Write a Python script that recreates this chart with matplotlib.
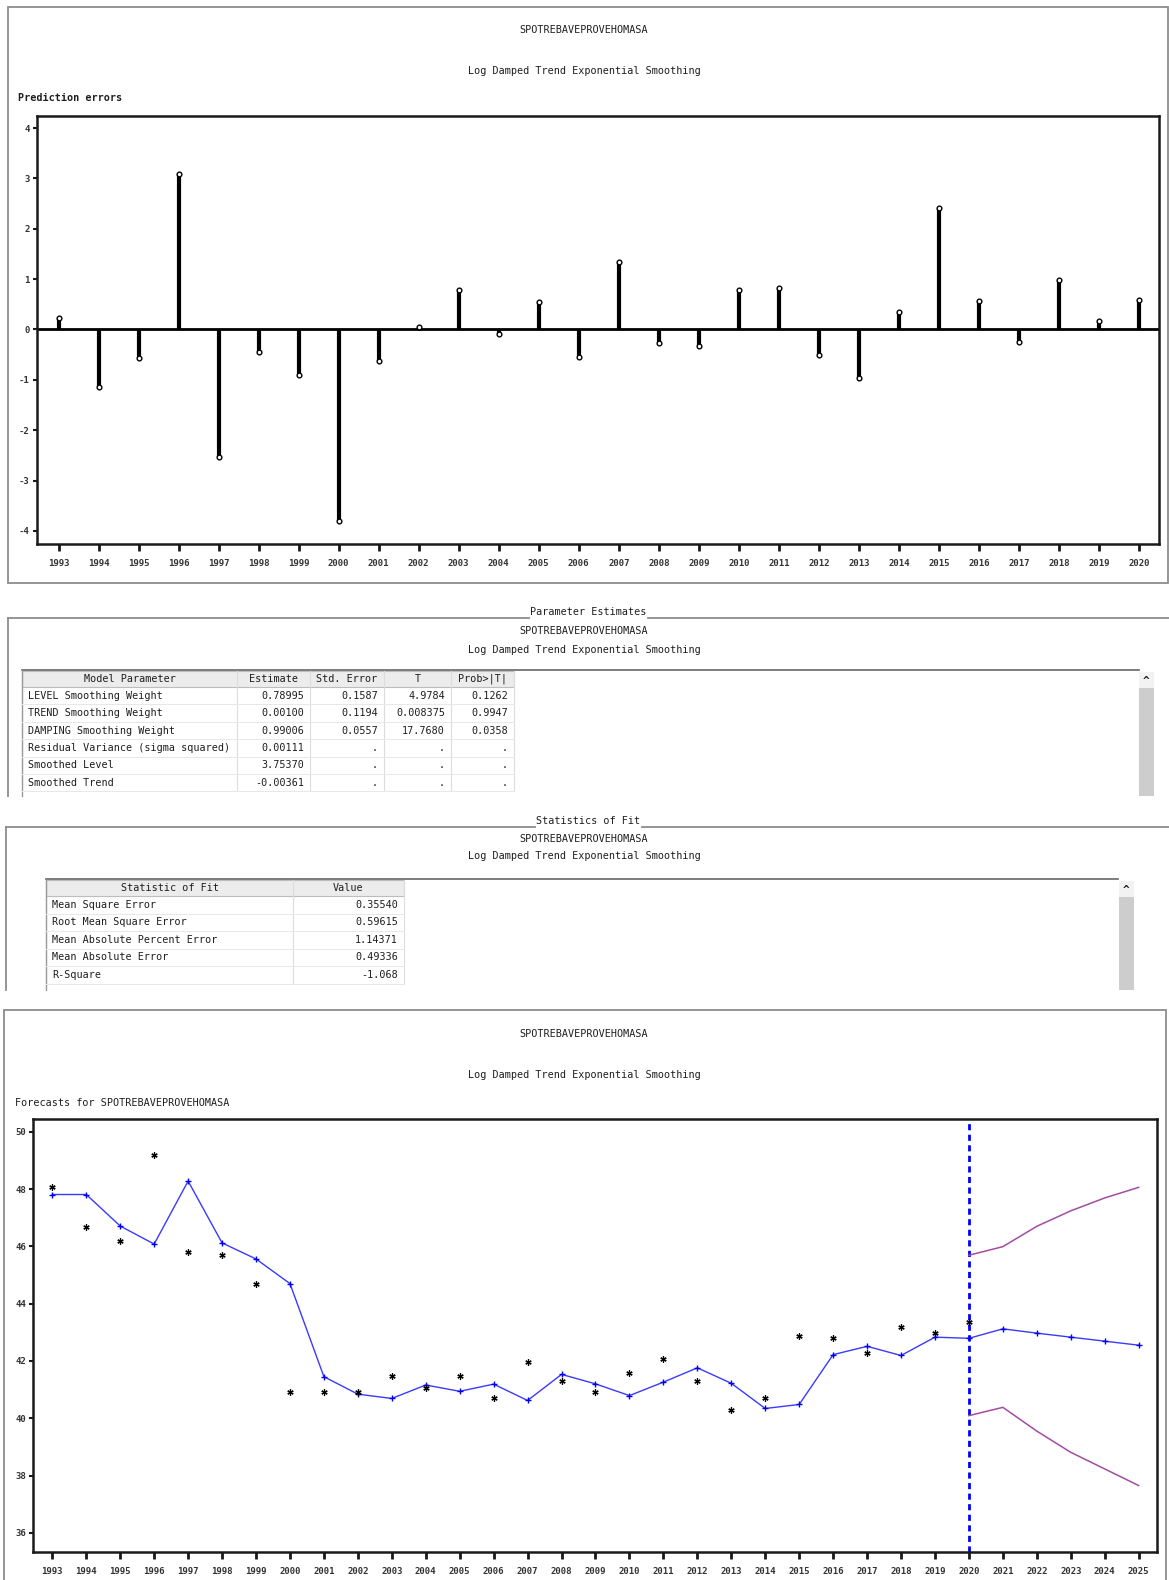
import matplotlib
matplotlib.use('Agg')
import matplotlib.pyplot as plt
from matplotlib.lines import Line2D
from matplotlib.patches import Rectangle

# ---------------- data ----------------
title = "SPOTREBAVEPROVEHOMASA"
subtitle = "Log Damped Trend Exponential Smoothing"

err_years = list(range(1993, 2021))
errors = [0.23, -1.15, -0.56, 3.08, -2.54, -0.44, -0.91, -3.80, -0.62, 0.05,
          0.78, -0.09, 0.54, -0.54, 1.35, -0.27, -0.32, 0.78, 0.82, -0.50,
          -0.96, 0.35, 2.41, 0.56, -0.25, 0.98, 0.16, 0.58]

act_years = list(range(1993, 2021))
actual = [48.08, 46.69, 46.19, 49.19, 45.79, 45.69, 44.70, 40.91, 40.91, 40.91,
          41.48, 41.07, 41.48, 40.69, 41.98, 41.29, 40.91, 41.58, 42.08, 41.29,
          40.29, 40.69, 42.87, 42.79, 42.28, 43.17, 42.98, 43.35]

pred_years = list(range(1993, 2026))
predicted = [47.81, 47.81, 46.71, 46.08, 48.28, 46.12, 45.56, 44.70, 41.45, 40.84,
             40.69, 41.16, 40.94, 41.19, 40.62, 41.53, 41.20, 40.79, 41.26, 41.76,
             41.22, 40.34, 40.48, 42.22, 42.51, 42.19, 42.83, 42.79, 43.12, 42.97,
             42.83, 42.69, 42.55]

ci_years = list(range(2020, 2026))
upper = [45.69, 45.99, 46.70, 47.24, 47.69, 48.06]
lower = [40.09, 40.38, 39.55, 38.81, 38.23, 37.65]
forecast_start = 2020

err_yticks = [-4, -3, -2, -1, 0, 1, 2, 3, 4]
fc_yticks = [36, 38, 40, 42, 44, 46, 48, 50]

param_header = ["Model Parameter", "Estimate", "Std. Error", "T", "Prob>|T|"]
param_names = ["LEVEL Smoothing Weight", "TREND Smoothing Weight",
               "DAMPING Smoothing Weight", "Residual Variance (sigma squared)",
               "Smoothed Level", "Smoothed Trend"]
param_estimate = ["0.78995", "0.00100", "0.99006", "0.00111", "3.75370", "-0.00361"]
param_stderr = ["0.1587", "0.1194", "0.0557", ".", ".", "."]
param_t = ["4.9784", "0.008375", "17.7680", ".", ".", "."]
param_prob = ["0.1262", "0.9947", "0.0358", ".", ".", "."]

stat_header = ["Statistic of Fit", "Value"]
stat_names = ["Mean Square Error", "Root Mean Square Error",
              "Mean Absolute Percent Error", "Mean Absolute Error", "R-Square"]
stat_values = ["0.35540", "0.59615", "1.14371", "0.49336", "-1.068"]

# ---------------- figure ----------------
W, H = 1169, 1580
plt.rcParams['font.family'] = ['DejaVu Sans Mono']
fig = plt.figure(figsize=(W / 100, H / 100), dpi=100)
fig.patch.set_facecolor('white')

FS = 7.3
TXT = '#1e1e1e'
FRAME = '#8c8c8c'


def line(x0, y0, x1, y1, color=FRAME, lw=1.3):
    fig.add_artist(Line2D([x0 / W, x1 / W], [1 - y0 / H, 1 - y1 / H],
                          color=color, lw=lw, transform=fig.transFigure))


def rect(x0, y0, x1, y1, fc='none', ec='none', lw=0.8):
    fig.add_artist(Rectangle((x0 / W, 1 - y1 / H), (x1 - x0) / W, (y1 - y0) / H,
                             facecolor=fc, edgecolor=ec, lw=lw,
                             transform=fig.transFigure))


def text(x, y, s, ha='left', **kw):
    fig.text(x / W, 1 - y / H, s, ha=ha, va='center', fontsize=kw.pop('fs', FS),
             color=kw.pop('color', TXT), **kw)


def style_axes(ax):
    for sp in ax.spines.values():
        sp.set_linewidth(1.8)
        sp.set_color('#1a1a1a')
    ax.tick_params(axis='x', direction='out', length=5, width=2, pad=6,
                   labelsize=6.5, colors='#1a1a1a', labelcolor='#333333')
    ax.tick_params(axis='y', direction='out', length=3, width=1.5, pad=2,
                   labelsize=6.5, colors='#1a1a1a', labelcolor='#333333')
    for lab in ax.get_xticklabels() + ax.get_yticklabels():
        lab.set_fontweight('bold')


# ---------------- top panel: prediction errors ----------------
rect(8, 7, 1168, 583, ec=FRAME, lw=1.3)
text(584, 30, title, ha='center')
text(584, 70.5, subtitle, ha='center')
text(18, 98, "Prediction errors", weight='bold')

ax1 = fig.add_axes([36.5 / W, 1 - 544 / H, (1159 - 36.5) / W, (544 - 116) / H])
ax1.vlines(err_years, 0, errors, color='black', lw=3, zorder=2)
ax1.axhline(0, color='black', lw=2, zorder=2)
ax1.plot(err_years, errors, 'o', ms=3.4, mfc='white', mec='black', mew=1.0, zorder=3)
ax1.set_xlim(1992.445, 2020.505)
ax1.set_ylim(-4.26, 4.24)
ax1.set_xticks(err_years)
ax1.set_xticklabels([str(y) for y in err_years])
ax1.set_yticks(err_yticks)
ax1.set_yticklabels([str(v) for v in err_yticks])
style_axes(ax1)

# ---------------- parameter estimates table ----------------
line(8, 618, 529, 618)
line(648, 618, 1169, 618)
text(588.5, 612, "Parameter Estimates", ha='center')
line(8, 618, 8, 796)
text(584, 631, title, ha='center')
text(584, 650, subtitle, ha='center')
line(22, 670, 1139, 670, color='#666666', lw=1.2)

p_cols = [22, 237, 310, 384, 451, 514]
p_top, p_hh, p_rh = 671, 16, 17.4
rect(p_cols[0], p_top, p_cols[-1], p_top + p_hh, fc='#ececec', ec='#bdbdbd', lw=0.8)
for i, h in enumerate(param_header):
    text((p_cols[i] + p_cols[i + 1]) / 2, p_top + p_hh / 2, h, ha='center')
for c in p_cols:
    line(c, p_top, c, p_top + p_hh + p_rh * len(param_names), color='#dcdcdc', lw=0.8)
line(p_cols[0], p_top, p_cols[0], 796, color='#9a9a9a', lw=1.0)
cols_data = [param_estimate, param_stderr, param_t, param_prob]
for r, name in enumerate(param_names):
    y0 = p_top + p_hh + p_rh * r
    line(p_cols[0], y0 + p_rh, p_cols[-1], y0 + p_rh, color='#e8e8e8', lw=0.7)
    text(p_cols[0] + 6, y0 + p_rh / 2, name)
    for j, col in enumerate(cols_data):
        text(p_cols[j + 2] - 6, y0 + p_rh / 2, col[r], ha='right')
# scrollbar
rect(1139, 672, 1154, 796, fc='#cdcdcd')
rect(1139, 672, 1154, 688, fc='#f2f2f2')
text(1146.5, 681, "^", ha='center', weight='bold', fs=8)

# ---------------- statistics of fit table ----------------
line(6, 827, 535, 827)
line(642, 827, 1169, 827)
text(588.5, 821, "Statistics of Fit", ha='center')
line(6, 827, 6, 990)
text(584, 838.5, title, ha='center')
text(584, 855.6, subtitle, ha='center')
line(46, 879, 1118, 879, color='#666666', lw=1.2)

s_cols = [46, 293, 404]
s_top, s_hh, s_rh = 880, 16, 17.5
rect(s_cols[0], s_top, s_cols[-1], s_top + s_hh, fc='#ececec', ec='#bdbdbd', lw=0.8)
for i, h in enumerate(stat_header):
    text((s_cols[i] + s_cols[i + 1]) / 2, s_top + s_hh / 2, h, ha='center')
for c in s_cols:
    line(c, s_top, c, s_top + s_hh + s_rh * len(stat_names), color='#dcdcdc', lw=0.8)
line(s_cols[0], s_top, s_cols[0], 990, color='#9a9a9a', lw=1.0)
for r, name in enumerate(stat_names):
    y0 = s_top + s_hh + s_rh * r
    line(s_cols[0], y0 + s_rh, s_cols[-1], y0 + s_rh, color='#e8e8e8', lw=0.7)
    text(s_cols[0] + 6, y0 + s_rh / 2, name)
    text(s_cols[2] - 6, y0 + s_rh / 2, stat_values[r], ha='right')
rect(1118.5, 881, 1134, 990, fc='#cdcdcd')
rect(1118.5, 881, 1134, 897, fc='#f2f2f2')
text(1126, 890, "^", ha='center', weight='bold', fs=8)

# ---------------- bottom panel: forecasts ----------------
rect(4, 1010, 1166, 1590, ec=FRAME, lw=1.3)
text(584, 1034, title, ha='center')
text(584, 1075, subtitle, ha='center')
text(15, 1102.5, "Forecasts for " + title)

ax2 = fig.add_axes([33.3 / W, 1 - 1552 / H, (1157 - 33.3) / W, (1552 - 1118.6) / H])
ax2.plot(pred_years, predicted, '-', color='#3a3aff', lw=1.0, zorder=3)
ax2.plot(pred_years, predicted, '+', color='#0000ee', ms=5, mew=1.0, zorder=3)
ax2.plot(act_years, actual, linestyle='none', marker=(6, 2, 0), color='black',
         ms=4.5, mew=0.9, zorder=4)
ax2.plot(ci_years, upper, color='#a24ca2', lw=1.1, zorder=2)
ax2.plot(ci_years, lower, color='#a24ca2', lw=1.1, zorder=2)
ax2.axvline(forecast_start, color='#0000ff', lw=2, dashes=(2.2, 1.6), zorder=1)
ax2.set_xlim(1992.44, 2025.54)
ax2.set_ylim(35.33, 50.46)
ax2.set_xticks(pred_years)
ax2.set_xticklabels([str(y) for y in pred_years])
ax2.set_yticks(fc_yticks)
ax2.set_yticklabels([str(v) for v in fc_yticks])
style_axes(ax2)

fig.savefig('out.png', dpi=100, facecolor='white')
